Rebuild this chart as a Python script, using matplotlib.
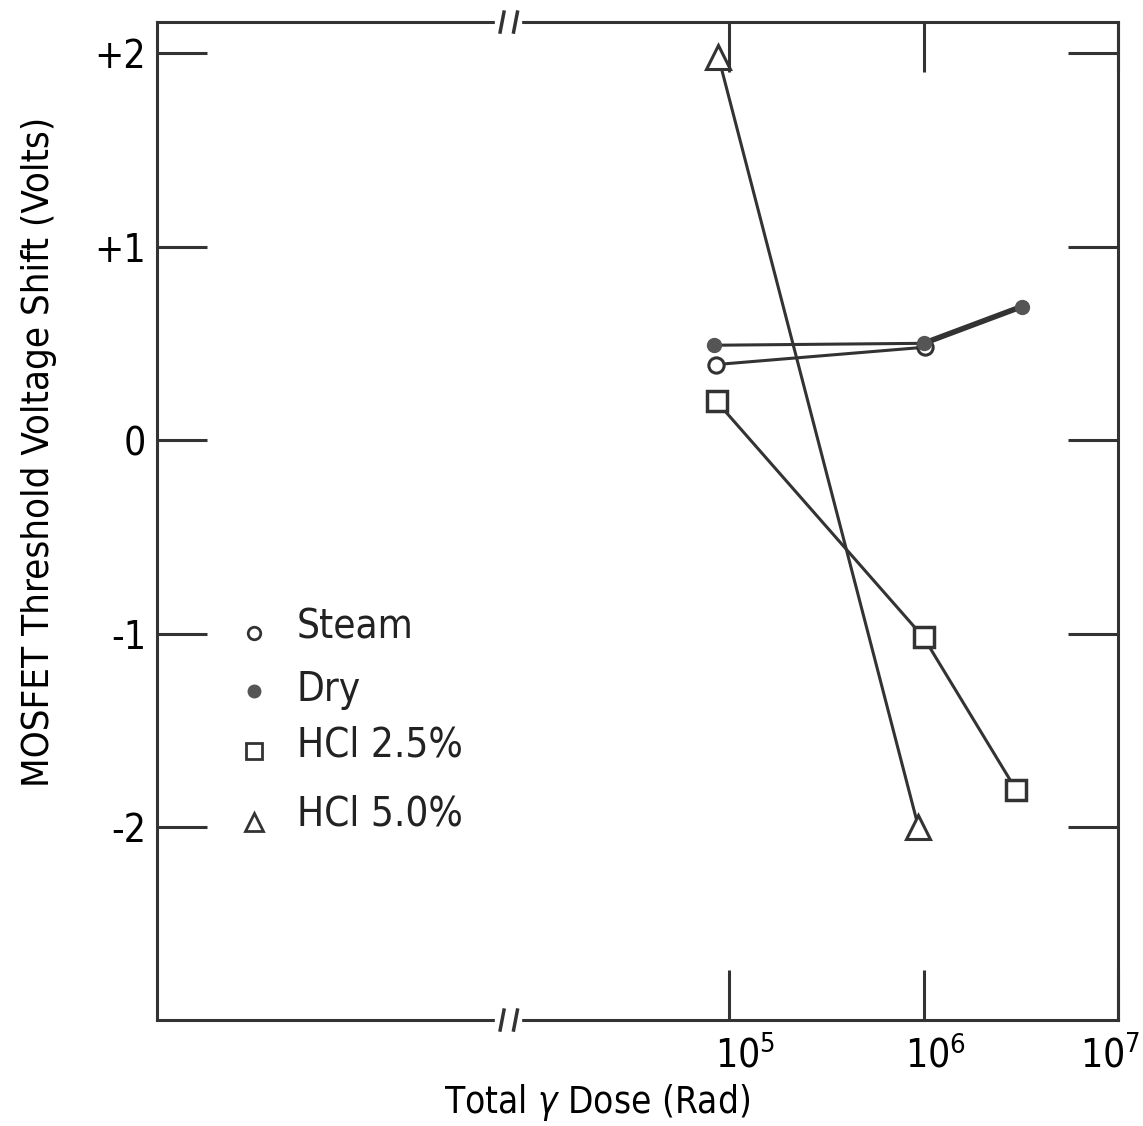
import matplotlib
matplotlib.use('Agg')
from matplotlib import pyplot as plt
from matplotlib import font_manager
from matplotlib.transforms import ScaledTranslation
import numpy as np

# a narrow face is closest to the typewriter lettering of the scan
names = set(f.name for f in font_manager.fontManager.ttflist)
if 'Liberation Sans Narrow' in names:
    fam = ['Liberation Sans Narrow', 'DejaVu Sans']
    stretch = 'normal'
else:
    fam = ['DejaVu Sans']
    stretch = 'condensed'
plt.rcParams['font.family'] = fam
plt.rcParams['font.stretch'] = stretch
plt.rcParams['mathtext.fontset'] = 'custom'
plt.rcParams['mathtext.rm'] = fam[0] + (':stretch=condensed' if stretch == 'condensed' else '')

# data
steam_x = [8.5e4, 1.02e6]
steam_y = [0.39, 0.48]
dry_x = [8.3e4, 1.0e6, 3.2e6]
dry_y = [0.49, 0.50, 0.69]
hcl25_x = [8.6e4, 1.0e6, 3.0e6]
hcl25_y = [0.20, -1.02, -1.81]
hcl50_x = [8.8e4, 9.4e5]
hcl50_y = [1.98, -2.00]

yticks = [2, 1, 0, -1, -2]
yticklabels = ['+2', '+1', '0', '-1', '-2']
xticks = [1e5, 1e6, 1e7]
xticklabels = ['$10^5$', '$10^6$', '$10^7$']

legend_labels = ['Steam', 'Dry', 'HCl 2.5%', 'HCl 5.0%']
legend_marker_y = [-0.995, -1.295, -1.606, -1.975]
legend_text_y = [-0.97, -1.29, -1.58, -1.935]

fig = plt.figure(figsize=(11.43, 11.26), dpi=100)
ax = fig.add_axes([0.1374, 0.0941, 0.8408, 0.8863])

lc = '#333333'
ax.plot(steam_x, steam_y, color=lc, lw=2.2)
ax.plot(dry_x[:2], dry_y[:2], color=lc, lw=2.2)
ax.plot(dry_x[1:], dry_y[1:], color=lc, lw=4)
ax.plot(hcl25_x, hcl25_y, color=lc, lw=2.2)
ax.plot(hcl50_x, hcl50_y, color=lc, lw=2.2)

ax.plot(steam_x, steam_y, 'o', ms=11, mfc='white', mec=lc, mew=2.2, ls='none')
ax.plot(dry_x, dry_y, 'o', ms=10, mfc='#555555', mec='#555555', ls='none')
ax.plot(hcl25_x, hcl25_y, 's', ms=15, mfc='white', mec=lc, mew=2.5, ls='none')
ax.plot(hcl50_x, hcl50_y, '^', ms=17, mfc='white', mec=lc, mew=2.2, ls='none')

ax.set_xscale('log')
ax.set_xlim(10 ** 2.057, 1e7)
ax.set_ylim(-2.997, 2.16)

ax.set_yticks(yticks)
ax.set_yticklabels(yticklabels, fontsize=28)
ax.set_xticks(xticks)
ax.set_xticklabels(xticklabels, fontsize=28)
ax.minorticks_off()
ax.tick_params(axis='both', direction='in', width=2.2, color=lc,
               top=True, right=True, length=36)
ax.tick_params(axis='y', pad=8)
ax.tick_params(axis='x', pad=11)

# the scanned labels sit a little right of their ticks
shifts = [16, 12, -8]
for lab, dx in zip(ax.get_xticklabels(), shifts):
    lab.set_transform(lab.get_transform() + ScaledTranslation(dx / 100, 0, fig.dpi_scale_trans))

for s in ax.spines.values():
    s.set_linewidth(2.2)
    s.set_color(lc)

ax.set_ylabel('MOSFET Threshold Voltage Shift (Volts)', fontsize=27.5, va='center')
ax.yaxis.set_label_coords(-0.123, 0.569)
ax.set_xlabel('Total $\\gamma$ Dose (Rad)', fontsize=26.5, va='center')
ax.xaxis.set_label_coords(0.458, -0.083)

# axis break marks on top and bottom spines
for yb in (0.0, 1.0):
    ax.plot([0.356, 0.376], [yb, yb], transform=ax.transAxes, color='white',
            lw=6, clip_on=False, zorder=5)
    for xb in (0.359, 0.373):
        ax.plot([xb - 0.002, xb + 0.002], [yb - 0.01, yb + 0.01],
                transform=ax.transAxes, color=lc, lw=2.5, clip_on=False, zorder=6)

# legend drawn as in the original
leg_style = [('o', 'white', 9), ('o', '#555555', 8), ('s', 'white', 11), ('^', 'white', 13)]
for (m, fc, ms), lab, my, ty in zip(leg_style, legend_labels, legend_marker_y, legend_text_y):
    ax.plot([10 ** 2.555], [my], m, ms=ms, mfc=fc, mec=lc if fc == 'white' else fc,
            mew=2, ls='none')
    ax.text(10 ** 2.775, ty, lab, fontsize=29, va='center', ha='left', color='#222222')

fig.savefig('out.png', dpi=100)
